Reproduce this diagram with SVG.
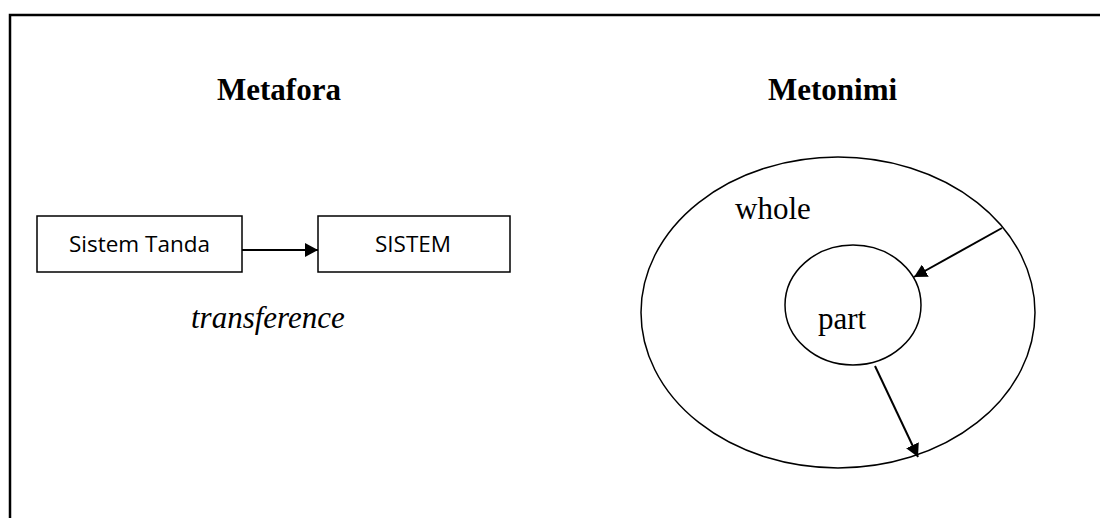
<svg xmlns="http://www.w3.org/2000/svg" width="1100" height="518" viewBox="0 0 1100 518">
<style>
.frame{fill:none;stroke:#000;stroke-width:2.5}
.box{fill:#fff;stroke:#000;stroke-width:1.5}
.shape{fill:none;stroke:#000;stroke-width:1.5}
.conn{stroke:#000;stroke-width:2;fill:none}
.title{font-family:"Liberation Serif",serif;font-weight:bold;font-size:31px;fill:#000}
.serif{font-family:"Liberation Serif",serif;font-size:31px;fill:#000}
.sans{font-family:"Open Sans","Liberation Sans",sans-serif;font-size:22.5px;fill:#000}
</style>
<defs>
<marker id="ah" markerWidth="13" markerHeight="14" refX="13" refY="7" orient="auto" markerUnits="userSpaceOnUse">
<path d="M0,0 L13,7 L0,14 Z" fill="#000"/>
</marker>
</defs>
<rect fill="#fff" x="0" y="0" width="1100" height="518"/>
<path class="frame" d="M10,530 L10,15 L1110,15"/>
<g id="title-metafora"><text class="title" x="217" y="100">Metafora</text></g>
<g id="title-metonimi"><text class="title" x="768" y="100">Metonimi</text></g>
<g id="node-sistem-tanda">
<rect class="box" x="37" y="216" width="205" height="56"/>
<text class="sans" x="139.5" y="252" text-anchor="middle">Sistem Tanda</text>
</g>
<g id="node-sistem">
<rect class="box" x="318" y="216" width="192" height="56"/>
<text class="sans" x="413" y="252" text-anchor="middle">SISTEM</text>
</g>
<g id="label-transference"><text class="serif" x="191" y="328" font-style="italic" font-size="33">transference</text></g>
<g id="node-whole">
<ellipse class="shape" cx="838" cy="312.5" rx="197" ry="155.5"/>
<text class="serif" x="735" y="219">whole</text>
</g>
<g id="node-part">
<ellipse class="shape" cx="853" cy="305" rx="68" ry="60"/>
<text class="serif" x="818" y="329">part</text>
</g>
<g id="connectors">
<line class="conn" x1="242" y1="250" x2="318" y2="250" marker-end="url(#ah)"/>
<line class="conn" x1="1002" y1="228" x2="914" y2="277" marker-end="url(#ah)"/>
<line class="conn" x1="875" y1="366" x2="918" y2="457" marker-end="url(#ah)"/>
</g>
</svg>
